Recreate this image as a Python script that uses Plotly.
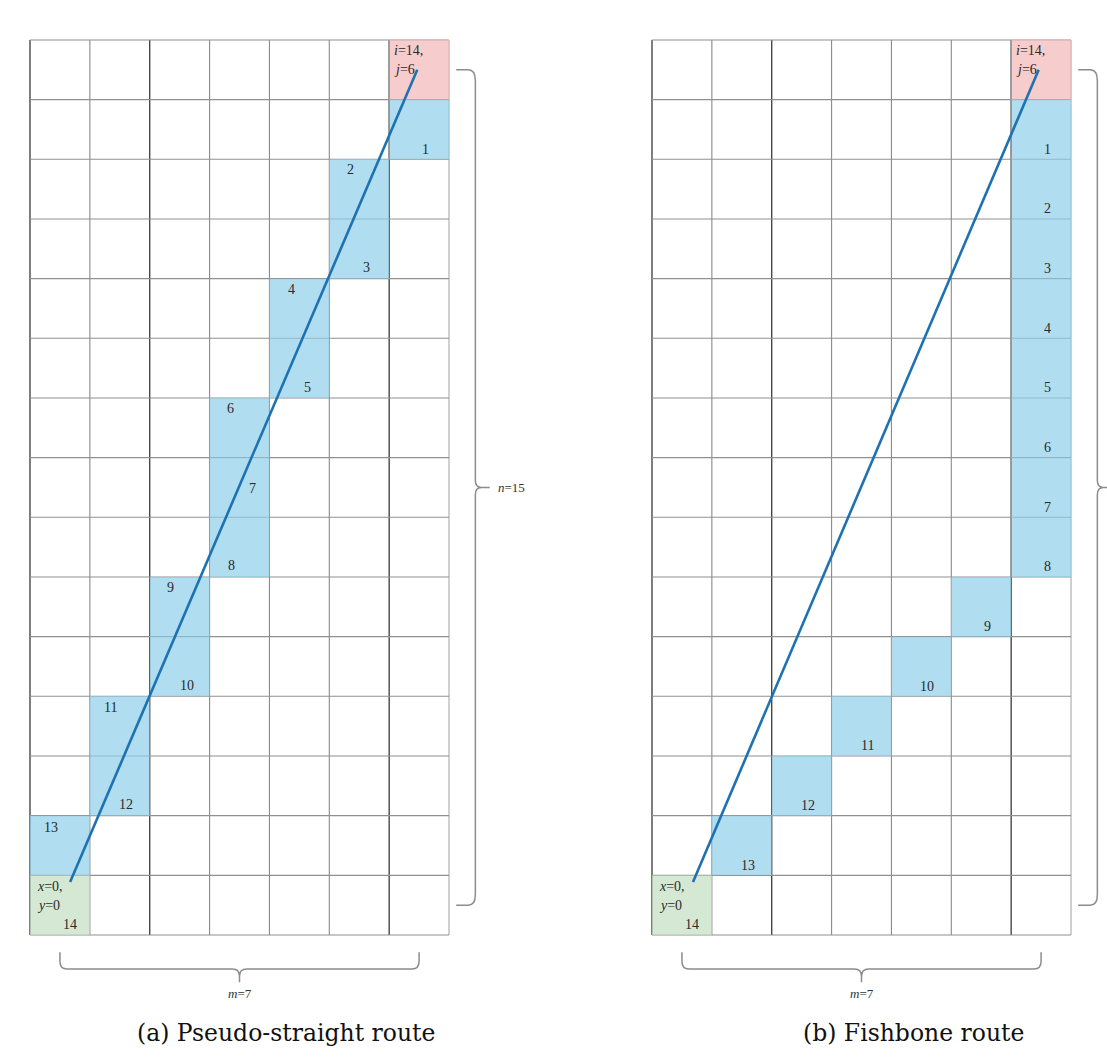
import plotly.graph_objects as go

# Grid size
N_COLS = 7
N_ROWS = 15

# Route step numbers and the cells they occupy (column, row from bottom)
step_labels = [str(k) for k in range(1, 14)]
straight_cols = [6, 5, 5, 4, 4, 3, 3, 3, 2, 2, 1, 1, 0]
straight_rows = [13, 12, 11, 10, 9, 8, 7, 6, 5, 4, 3, 2, 1]
fishbone_cols = [6, 6, 6, 6, 6, 6, 6, 6, 5, 4, 3, 2, 1]
fishbone_rows = [13, 12, 11, 10, 9, 8, 7, 6, 5, 4, 3, 2, 1]

# Start / end cells
start_cell = (0, 0)
end_cell = (6, 14)
start_label = "14"

# Straight segment joining start and end
straight_line_x = [0.67, 6.47]
straight_line_y = [0.89, 14.5]
fishbone_line_x = [0.685, 6.46]
fishbone_line_y = [0.89, 14.5]

captions = ["(a) Pseudo-straight route", "(b) Fishbone route"]
n_label = "<i>n</i>=15"
m_label = "<i>m</i>=7"

# Label placement inside each cell (fraction of cell from lower-left)
straight_offsets = [(0.6, 0.17), (0.35, 0.83), (0.62, 0.18), (0.37, 0.82), (0.63, 0.18),
                    (0.35, 0.82), (0.72, 0.48), (0.37, 0.2), (0.35, 0.83), (0.62, 0.18),
                    (0.35, 0.82), (0.6, 0.18), (0.35, 0.8)]
fishbone_offsets = [(0.6, 0.17)] * 13

W, H = 1107, 1062
CELL_W, CELL_H = 59.86, 59.67
SPLIT = 553

BLUE = "rgba(142,206,234,0.7)"
PINK = "rgba(242,182,182,0.7)"
GREEN = "rgba(195,222,194,0.7)"
LINE_BLUE = "#1f72b2"
SERIF = "Liberation Serif, DejaVu Serif, serif"
TEXT_FONT = dict(family=SERIF, size=14, color="#2a2a2a")

fig = go.Figure()
shapes = []
annotations = []

panels = [
    dict(xa="x", ya="y", cols=straight_cols, rows=straight_rows,
         offs=straight_offsets, lx=straight_line_x, ly=straight_line_y, cap=captions[0]),
    dict(xa="x2", ya="y2", cols=fishbone_cols, rows=fishbone_rows,
         offs=fishbone_offsets, lx=fishbone_line_x, ly=fishbone_line_y, cap=captions[1]),
]

bottom_px = 935

for i, p in enumerate(panels):
    xa, ya = p["xa"], p["ya"]
    # grid lines
    for c in range(N_COLS + 1):
        if c in (0, 2, 6):
            col, wd = "#3a3a3a", 1.3
        elif c == N_COLS:
            col, wd = "#b0b0b0", 1.2
        else:
            col, wd = "#8a8a8a", 1.1
        shapes.append(dict(type="line", xref=xa, yref=ya, x0=c, x1=c, y0=0, y1=N_ROWS,
                           line=dict(color=col, width=wd), layer="below"))
    for r in range(N_ROWS + 1):
        shapes.append(dict(type="line", xref=xa, yref=ya, x0=0, x1=N_COLS, y0=r, y1=r,
                           line=dict(color="#909090", width=1.1), layer="below"))
    # highlighted cells
    for c, r in zip(p["cols"], p["rows"]):
        shapes.append(dict(type="rect", xref=xa, yref=ya, x0=c, x1=c + 1, y0=r, y1=r + 1,
                           fillcolor=BLUE, line=dict(width=0), layer="below"))
    shapes.append(dict(type="rect", xref=xa, yref=ya, x0=end_cell[0], x1=end_cell[0] + 1,
                       y0=end_cell[1], y1=end_cell[1] + 1, fillcolor=PINK, line=dict(width=0), layer="below"))
    shapes.append(dict(type="rect", xref=xa, yref=ya, x0=start_cell[0], x1=start_cell[0] + 1,
                       y0=start_cell[1], y1=start_cell[1] + 1, fillcolor=GREEN, line=dict(width=0), layer="below"))

    # step numbers
    for lab, c, r, (ox, oy) in zip(step_labels, p["cols"], p["rows"], p["offs"]):
        annotations.append(dict(xref=xa, yref=ya, x=c + ox, y=r + oy, text=lab, showarrow=False,
                                font=TEXT_FONT, xanchor="center", yanchor="middle"))
    # start / end text
    annotations.append(dict(xref=xa, yref=ya, x=start_cell[0] + 0.08, y=start_cell[1] + 0.82,
                            text="<i>x</i>=0,", showarrow=False, font=TEXT_FONT,
                            xanchor="left", yanchor="middle"))
    annotations.append(dict(xref=xa, yref=ya, x=start_cell[0] + 0.08, y=start_cell[1] + 0.5,
                            text="<i>y</i>=0", showarrow=False, font=TEXT_FONT,
                            xanchor="left", yanchor="middle"))
    annotations.append(dict(xref=xa, yref=ya, x=start_cell[0] + 0.67, y=start_cell[1] + 0.17,
                            text=start_label, showarrow=False, font=TEXT_FONT,
                            xanchor="center", yanchor="middle"))
    annotations.append(dict(xref=xa, yref=ya, x=end_cell[0] + 0.05, y=end_cell[1] + 0.83,
                            text="<i>i</i>=14,", showarrow=False, font=TEXT_FONT,
                            xanchor="left", yanchor="middle"))
    annotations.append(dict(xref=xa, yref=ya, x=end_cell[0] + 0.05, y=end_cell[1] + 0.5,
                            text="<i>j</i>=6", showarrow=False, font=TEXT_FONT,
                            xanchor="left", yanchor="middle"))

    # route line
    fig.add_trace(go.Scatter(x=p["lx"], y=p["ly"], xaxis=xa, yaxis=ya, mode="lines",
                             line=dict(color=LINE_BLUE, width=2.6), showlegend=False,
                             hoverinfo="skip"))

    # right-hand brace (rows)
    x0, xv, xt = 7.12, 7.44, 7.68
    y0, y1, ym = 0.5, 14.5, 7.5
    rb = (f"M {x0},{y1} L {xv-0.12},{y1} Q {xv},{y1} {xv},{y1-0.18} "
          f"L {xv},{ym+0.12} Q {xv},{ym} {xv+0.1},{ym} L {xt},{ym} "
          f"M {xv+0.1},{ym} Q {xv},{ym} {xv},{ym-0.12} "
          f"L {xv},{y0+0.18} Q {xv},{y0} {xv-0.12},{y0} L {x0},{y0}")
    shapes.append(dict(type="path", xref=xa, yref=ya, path=rb,
                       line=dict(color="#8c8c8c", width=1.5)))
    annotations.append(dict(xref=xa, yref=ya, x=7.78, y=ym, text=n_label, showarrow=False,
                            font=dict(family=SERIF, size=13, color="#333"),
                            xanchor="left", yanchor="middle"))

    # bottom brace (columns)
    xl, xr, xm = 0.5, 6.5, 3.5
    yt, yh, yp = -0.29, -0.57, -0.79
    bb = (f"M {xl},{yt} L {xl},{yh+0.13} Q {xl},{yh} {xl+0.12},{yh} L {xm-0.12},{yh} "
          f"Q {xm},{yh} {xm},{yh-0.12} L {xm},{yp} M {xm},{yh-0.12} Q {xm},{yh} {xm+0.12},{yh} "
          f"L {xr-0.12},{yh} Q {xr},{yh} {xr},{yh+0.13} L {xr},{yt}")
    shapes.append(dict(type="path", xref=xa, yref=ya, path=bb,
                       line=dict(color="#8c8c8c", width=1.5)))
    annotations.append(dict(xref=xa, yref=ya, x=xm, y=-0.98, text=m_label, showarrow=False,
                            font=dict(family=SERIF, size=13, color="#333"),
                            xanchor="center", yanchor="middle"))

    # caption
    cap_x = 286 if i == 0 else 913
    annotations.append(dict(xref="paper", yref="paper", x=cap_x / W, y=1 - 1033 / H,
                            text=p["cap"], showarrow=False,
                            font=dict(family="DejaVu Serif, Liberation Serif, serif", size=23.5, color="#111"),
                            xanchor="center", yanchor="middle"))


def x_range(left_px, d0, d1):
    return [(d0 - left_px) / CELL_W, (d1 - left_px) / CELL_W]


y_rng = [(bottom_px - H) / CELL_H, bottom_px / CELL_H]
axis_common = dict(showgrid=False, zeroline=False, showticklabels=False, ticks="", showline=False)

fig.update_layout(
    width=W, height=H,
    margin=dict(l=0, r=0, t=0, b=0),
    paper_bgcolor="white", plot_bgcolor="white",
    xaxis=dict(domain=[0, SPLIT / W], range=x_range(30, 0, SPLIT), anchor="y", **axis_common),
    yaxis=dict(domain=[0, 1], range=y_rng, anchor="x", **axis_common),
    xaxis2=dict(domain=[SPLIT / W, 1], range=x_range(652, SPLIT, W), anchor="y2", **axis_common),
    yaxis2=dict(domain=[0, 1], range=y_rng, anchor="x2", **axis_common),
    shapes=shapes,
    annotations=annotations,
    showlegend=False,
)

fig.write_html("out.html")
